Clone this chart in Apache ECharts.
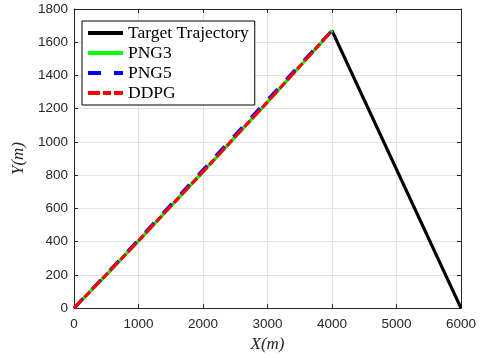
<!DOCTYPE html>
<html>
<head>
<meta charset="utf-8">
<script src="https://cdn.jsdelivr.net/npm/echarts@6/dist/echarts.min.js"></script>
<style>html,body{margin:0;padding:0;background:#fff}#c{width:482px;height:358px}</style>
</head>
<body>
<div id="c"></div>
<script>
const xTicks = [0, 1000, 2000, 3000, 4000, 5000, 6000];
const yTicks = [0, 200, 400, 600, 800, 1000, 1200, 1400, 1600, 1800];
const targetX = [6000, 4000];
const targetY = [0, 1670];
const missileX = [0, 500, 1000, 1500, 2000, 2500, 3000, 3500, 4000];
const png3Y = [0, 200, 404, 612, 820, 1030, 1240, 1454, 1670];
const png5Y = [0, 204, 412, 622, 832, 1043, 1253, 1464, 1670];
const ddpgY = [0, 201, 405, 613, 821, 1031, 1241, 1455, 1670];

const pair = (xs, ys) => xs.map((x, i) => [x, ys[i]]);
const chart = echarts.init(document.getElementById('c'));
const tickColor = '#262626';
const baseX = {
  type: 'value', min: 0, max: 6000, interval: 1000,
  axisLine: { show: true, onZero: false, lineStyle: { color: tickColor, width: 1 } },
  axisTick: { show: true, inside: true, length: 4, lineStyle: { color: tickColor } },
  splitLine: { show: false }
};
const baseY = {
  type: 'value', min: 0, max: 1800, interval: 200,
  axisLine: { show: true, onZero: false, lineStyle: { color: tickColor, width: 1 } },
  axisTick: { show: true, inside: true, length: 4, lineStyle: { color: tickColor } },
  splitLine: { show: false }
};
chart.setOption({
  animation: false,
  backgroundColor: '#fff',
  grid: { left: 74, right: 21, top: 9, bottom: 48 },
  xAxis: [
    Object.assign({}, baseX, {
      position: 'bottom',
      name: 'X(m)', nameLocation: 'middle', nameGap: 26,
      nameTextStyle: { fontFamily: 'Liberation Serif', fontStyle: 'italic', fontSize: 17, color: tickColor },
      axisLabel: { show: true, margin: 9, fontFamily: 'Liberation Sans', fontSize: 13.5, color: tickColor,
        formatter: v => String(v) },
      splitLine: { show: true, lineStyle: { color: '#e2e2e2', width: 1 } }
    }),
    Object.assign({}, baseX, { position: 'top', axisLabel: { show: false } })
  ],
  yAxis: [
    Object.assign({}, baseY, {
      position: 'left',
      name: 'Y(m)', nameLocation: 'middle', nameGap: 41,
      nameTextStyle: { fontFamily: 'Liberation Serif', fontStyle: 'italic', fontSize: 17, color: tickColor },
      axisLabel: { show: true, margin: 6, fontFamily: 'Liberation Sans', fontSize: 13.5, color: tickColor,
        formatter: v => String(v) },
      splitLine: { show: true, lineStyle: { color: '#e2e2e2', width: 1 } }
    }),
    Object.assign({}, baseY, { position: 'right', axisLabel: { show: false } })
  ],
  legend: {
    left: 82, top: 21, orient: 'vertical',
    itemWidth: 35, itemHeight: 20, itemGap: 0,
    padding: [2, 6, 2, 4],
    borderColor: '#000', borderWidth: 1, backgroundColor: '#fff',
    itemStyle: { opacity: 0 },
    lineStyle: { width: 4 },
    textStyle: { fontFamily: 'Liberation Serif', fontSize: 17.5, color: '#000', lineHeight: 20 },
    data: ['Target Trajectory', 'PNG3', 'PNG5', 'DDPG']
  },
  series: [
    { name: 'Target Trajectory', type: 'line', data: pair(targetX, targetY), symbol: 'none',
      lineStyle: { color: '#000', width: 3.2 }, itemStyle: { color: '#000' } },
    { name: 'PNG3', type: 'line', data: pair(missileX, png3Y), symbol: 'none',
      lineStyle: { color: '#00ff00', width: 3.2 }, itemStyle: { color: '#00ff00' } },
    { name: 'PNG5', type: 'line', data: pair(missileX, png5Y), symbol: 'none',
      lineStyle: { color: '#0000ff', width: 3.2, type: [13, 13] }, itemStyle: { color: '#0000ff' } },
    { name: 'DDPG', type: 'line', data: pair(missileX, ddpgY), symbol: 'none',
      lineStyle: { color: '#ff0000', width: 3.2, type: [12, 3, 8, 3] }, itemStyle: { color: '#ff0000' } }
  ]
});
</script>
</body>
</html>
